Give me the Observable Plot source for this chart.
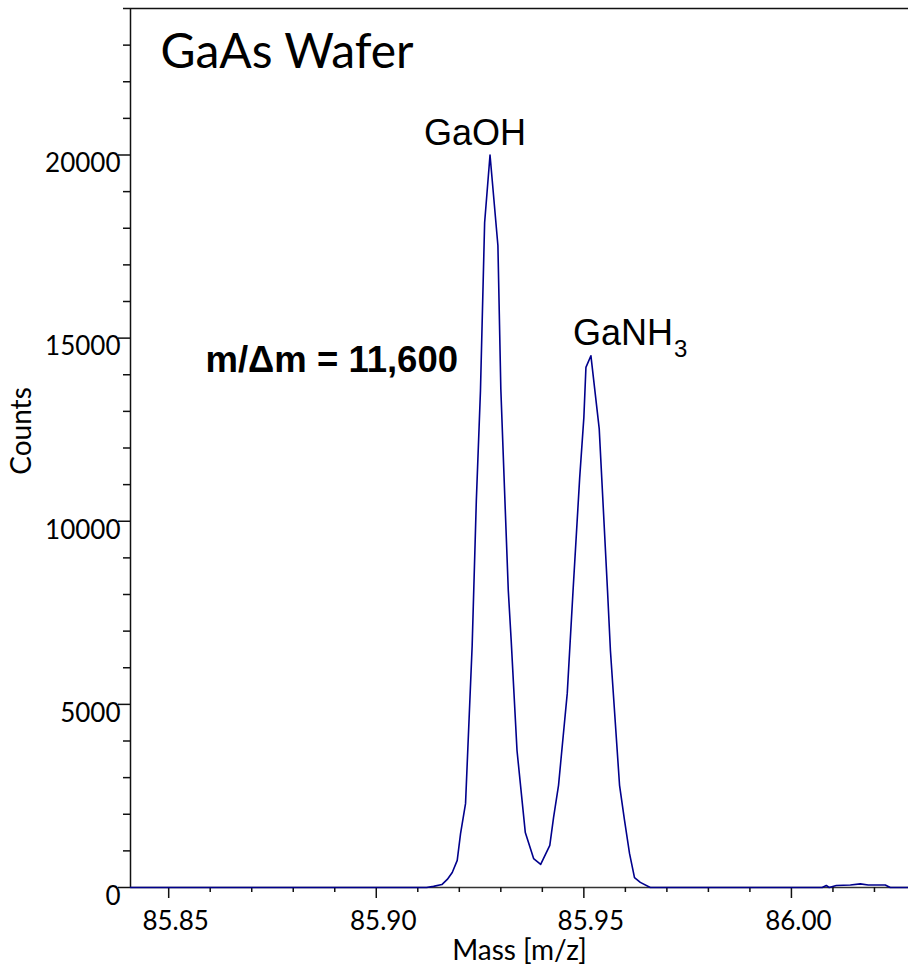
<!DOCTYPE html>
<html>
<head>
<meta charset="utf-8">
<script src="https://cdn.jsdelivr.net/npm/d3@7"></script>
<script src="https://cdn.jsdelivr.net/npm/@observablehq/plot@0.6"></script>
<style>
  body { margin: 0; background: #fff; }
  #chart svg { display: block; }
</style>
</head>
<body>
<div id="chart"></div>
<script>
// Mass spectrum of a GaAs wafer around m/z 86: GaOH and GaNH3 doublet
const mass = [
  85.8408, 85.9121, 85.9138, 85.9158, 85.9171, 85.9183, 85.9195, 85.9203,
  85.9215, 85.9231, 85.9241, 85.9251, 85.9261, 85.9274, 85.9293, 85.9300,
  85.9309, 85.9318, 85.9325, 85.9339, 85.9359, 85.9379, 85.9396, 85.9418,
  85.9427, 85.9439, 85.9460, 85.9474, 85.9490, 85.9500, 85.9505, 85.9517,
  85.9537, 85.9557, 85.9564, 85.9586, 85.9598, 85.9610, 85.9622, 85.9636,
  85.9660, 86.0074, 86.0084, 86.0091, 86.0108, 86.0142, 86.0166, 86.0185,
  86.0226, 86.0238, 86.0282
];
const counts = [
  0, 0, 30, 80, 220, 410, 740, 1470,
  2290, 6610, 10560, 13570, 18150, 20000, 17530, 13620,
  10840, 8110, 6740, 3740, 1500, 790, 630, 1150,
  1910, 2790, 5300, 8110, 11190, 12830, 14200, 14520,
  12530, 8110, 6470, 2790, 1830, 930, 270, 140,
  0, 0, 55, 0, 55, 70, 100, 70,
  70, 0, 0
];

// Axis ticks and labels
const xDomain = [85.8408, 86.0282];
const yDomain = [0, 24000];
const xMajor = [85.85, 85.90, 85.95, 86.00];
const xMinor = [85.86, 85.87, 85.88, 85.89, 85.91, 85.92, 85.93, 85.94,
                85.96, 85.97, 85.98, 85.99, 86.01, 86.02];
const yMajor = [0, 5000, 10000, 15000, 20000];
const yMinor = d3.range(1000, 24001, 1000).filter(v => v % 5000 !== 0);

const title = "GaAs Wafer";
const xLabel = "Mass [m/z]";
const yLabel = "Counts";
const resolution = "m/\u0394m = 11,600";

const spectrum = mass.map((m, i) => ({mass: m, counts: counts[i]}));

// Apex of each peak, used to anchor the species labels
const apexOH = d3.greatest(spectrum.filter(d => d.mass < 85.94), d => d.counts);
const apexNH = d3.greatest(spectrum.filter(d => d.mass > 85.94 && d.mass < 85.97), d => d.counts);

const axisColor = "#111";
const lineColor = "#00008c";
const sans = "Liberation Sans, Arial, sans-serif";

const chart = Plot.plot({
  width: 908,
  height: 966,
  marginLeft: 130,
  marginRight: 0,
  marginTop: 8,
  marginBottom: 79,
  style: {fontFamily: "Lato, sans-serif", fontSize: "26px", background: "#fff", color: "#000"},
  x: {domain: xDomain, axis: null},
  y: {domain: yDomain, axis: null},
  marks: [
    // frame: top edge, left axis line, baseline
    Plot.ruleY([yDomain[1]], {stroke: axisColor, strokeWidth: 1.5}),
    Plot.ruleX([xDomain[0]], {stroke: axisColor, strokeWidth: 1.5}),
    Plot.ruleY([0], {stroke: "#333", strokeWidth: 1.5}),

    // x ticks hang below the baseline
    Plot.ruleX(xMajor, {x: d => d, y1: 0, y2: 0, insetBottom: -11, stroke: axisColor, strokeWidth: 1.5}),
    Plot.ruleX(xMinor, {x: d => d, y1: 0, y2: 0, insetBottom: -5, stroke: axisColor, strokeWidth: 1.5}),
    Plot.text(xMajor, {
      x: d => d, frameAnchor: "bottom", text: d => d.toFixed(2),
      textAnchor: "middle", lineAnchor: "top", dx: 7, dy: 24, fontSize: 26, fill: "#000"
    }),

    // y ticks point left from the axis
    Plot.ruleY(yMajor, {y: d => d, x1: xDomain[0], x2: xDomain[0], insetLeft: -12, stroke: axisColor, strokeWidth: 1.5}),
    Plot.ruleY(yMinor, {y: d => d, x1: xDomain[0], x2: xDomain[0], insetLeft: -7, stroke: axisColor, strokeWidth: 1.5}),
    Plot.text(yMajor, {
      y: d => d, frameAnchor: "left", text: d => String(d),
      textAnchor: "end", lineAnchor: "middle", dx: -10, dy: 9, fontSize: 26, fill: "#000"
    }),

    // axis titles
    Plot.text([xLabel], {frameAnchor: "bottom", textAnchor: "middle", lineAnchor: "middle",
      dy: 64, fontSize: 28, fill: "#000"}),
    Plot.text([yLabel], {frameAnchor: "left", textAnchor: "middle", lineAnchor: "middle",
      rotate: -90, dx: -108, dy: -17, fontSize: 28, fill: "#000"}),

    // spectrum trace
    Plot.line(spectrum, {x: "mass", y: "counts", stroke: lineColor, strokeWidth: 1.6, strokeLinejoin: "round"}),

    // chart title inside the frame
    Plot.text([title], {frameAnchor: "top-left", textAnchor: "start", lineAnchor: "top",
      dx: 30, dy: 25, fontSize: 48, fill: "#000"}),

    // peak labels
    Plot.text([apexOH], {x: "mass", y: "counts", text: () => "GaOH",
      dx: -15, dy: -22, fontSize: 36, fontFamily: sans, fill: "#000"}),
    Plot.text([apexNH], {x: "mass", y: "counts", text: () => "GaNH",
      textAnchor: "start", dx: -18, dy: -22, fontSize: 36, fontFamily: sans, fill: "#000"}),
    Plot.text([apexNH], {x: "mass", y: "counts", text: () => "3",
      textAnchor: "start", dx: 83, dy: -6, fontSize: 24, fontFamily: sans, fill: "#000"}),

    // mass resolving power
    Plot.text([resolution], {frameAnchor: "top-left", textAnchor: "start", lineAnchor: "top",
      dx: 75, dy: 338, fontSize: 36.5, fontWeight: "bold", fontFamily: sans, fill: "#000"})
  ]
});

document.getElementById("chart").append(chart);
</script>
</body>
</html>
